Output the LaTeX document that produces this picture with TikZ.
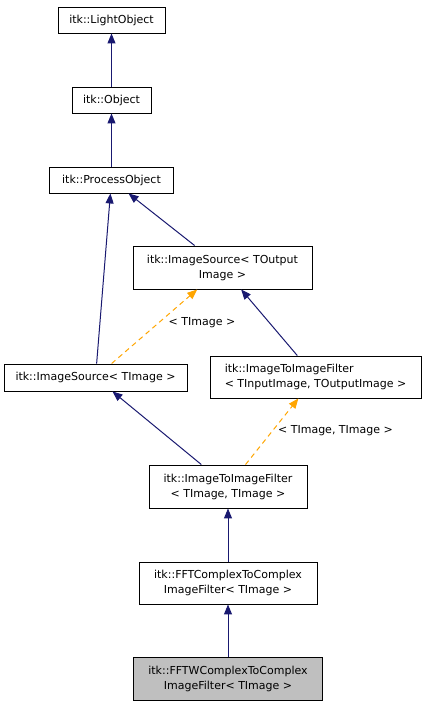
\documentclass[tikz,border=0pt]{standalone}
\usepackage{fontspec}
\setmainfont{DejaVu Sans}
\usetikzlibrary{arrows.meta}
\definecolor{edgeblue}{RGB}{25,25,112}
\definecolor{tplorange}{RGB}{255,165,0}
\definecolor{curgray}{RGB}{191,191,191}
\tikzset{
  cls/.style={draw=black, line width=0.9pt, inner sep=0pt, align=center,
    font=\fontsize{11}{15}\selectfont},
  inh/.style={draw=edgeblue, line width=1pt, -{Triangle[length=10pt,width=8pt]}},
  tpl/.style={draw=tplorange, line width=1pt, dash pattern=on 5pt off 4pt,
    -{Triangle[length=10pt,width=8pt]}},
  elabel/.style={font=\fontsize{11}{15}\selectfont, inner sep=0pt}
}
\begin{document}
\begin{tikzpicture}[x=1pt,y=-1pt]
\useasboundingbox (0,0) rectangle (427,707);

    % Classes
    \node[cls, minimum width=107pt, minimum height=26pt] (lightobj) at (111.5,20) {itk::LightObject};
    \node[cls, minimum width=79pt, minimum height=26pt] (obj) at (111.5,100) {itk::Object};
    \node[cls, minimum width=124pt, minimum height=26pt] (procobj) at (111.5,180) {itk::ProcessObject};
    \node[cls, minimum width=179pt, minimum height=43pt] (srcout) at (222.5,267.5) {itk::ImageSource< TOutput\\Image >};
    \node[cls, minimum width=183pt, minimum height=27pt] (srcimg) at (95.5,377.5) {itk::ImageSource< TImage >};
    \node[cls, align=left, minimum width=211pt, minimum height=42pt] (filtio) at (315.5,377) {itk::ImageToImageFilter\\< TInputImage, TOutputImage >};
    \node[cls, minimum width=158pt, minimum height=43pt] (filtimg) at (228,486.5) {itk::ImageToImageFilter\\< TImage, TImage >};
    \node[cls, minimum width=178pt, minimum height=42pt] (fftc) at (228,583) {itk::FFTComplexToComplex\\ImageFilter< TImage >};
    \node[cls, fill=curgray, minimum width=189pt, minimum height=43pt] (fftw) at (228,678.5) {itk::FFTWComplexToComplex\\ImageFilter< TImage >};

    % Inheritance
    \draw[inh] (obj) -- (lightobj);
    \draw[inh] (procobj) -- (obj);
    \draw[inh] (srcout) -- (procobj);
    \draw[inh] (srcimg) -- (procobj);
    \draw[inh] (filtio) -- (srcout);
    \draw[inh] (filtimg) -- (srcimg);
    \draw[inh] (fftc) -- (filtimg);
    \draw[inh] (fftw) -- (fftc);

    % Template instances
    \draw[tpl] (srcimg) -- (srcout);
    \draw[tpl] (filtimg) -- (filtio);
    \node[elabel] (lblsrc) at (202,323) {< TImage >};
    \node[elabel] (lblfilt) at (335.5,431) {< TImage, TImage >};

\end{tikzpicture}
\end{document}
